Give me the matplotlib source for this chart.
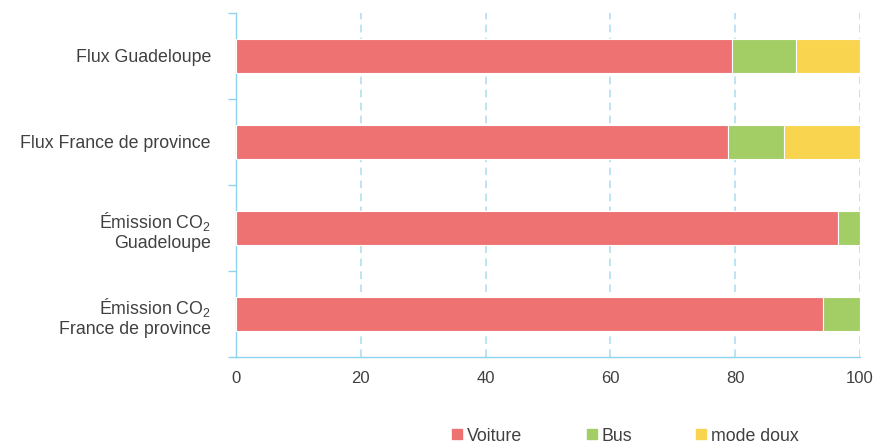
import matplotlib.pyplot as plt
from matplotlib.lines import Line2D

plt.rcParams['font.family'] = ['Liberation Sans', 'DejaVu Sans']
plt.rcParams['mathtext.fontset'] = 'custom'
plt.rcParams['mathtext.rm'] = 'Liberation Sans'
plt.rcParams['mathtext.it'] = 'Liberation Sans'

# données (en %)
categories = ["Flux Guadeloupe", "Flux France de province",
              "Émission CO$_2$\nGuadeloupe", "Émission CO$_2$\nFrance de province"]
voiture = [79.5, 78.8, 96.5, 94.0]
bus = [10.3, 9.0, 3.5, 6.0]
mode_doux = [10.2, 12.2, 0.0, 0.0]
series_names = ["Voiture", "Bus", "mode doux"]

colors = ['#EE7272', '#A3CD65', '#F9D44E']
axis_col = '#8FD2EE'
text_col = '#404040'

fig = plt.figure(figsize=(8.76, 4.43), dpi=100)
ax = fig.add_axes([236/876, 1-357/443, 624/876, 344/443])

ypos = list(range(len(categories)))
left = [0.0] * len(categories)
for vals, col in zip([voiture, bus, mode_doux], colors):
    ax.barh(ypos, vals, left=left, height=0.4, color=col,
            edgecolor='white', linewidth=0.8, zorder=3)
    left = [a + b for a, b in zip(left, vals)]

ax.set_xlim(0, 100)
ax.set_ylim(3.5, -0.5)
ax.set_xticks([0, 20, 40, 60, 80, 100])
ax.set_xticks([0], minor=True)
ax.set_yticks(ypos)
ax.set_yticklabels(categories, ha='right', linespacing=1.15)
ax.set_yticks([-0.5, 0.5, 1.5, 2.5, 3.5], minor=True)
ax.tick_params(axis='y', which='major', length=0, pad=18, labelsize=12.8, labelcolor=text_col)
ax.tick_params(axis='y', which='minor', length=6, color=axis_col, width=1)
ax.tick_params(axis='x', which='major', length=0, pad=10, labelsize=12, labelcolor=text_col)
ax.tick_params(axis='x', which='minor', length=5, color=axis_col, width=1)

for v in [20, 40, 60, 80, 100]:
    ax.axvline(v, color='#A9DDF0', linestyle=(0, (5, 3.5)), linewidth=1.1, zorder=1)

for s in ['top', 'right']:
    ax.spines[s].set_visible(False)
for s in ['left', 'bottom']:
    ax.spines[s].set_color(axis_col)
    ax.spines[s].set_linewidth(1)

handles = [Line2D([], [], marker='s', linestyle='none', markersize=7.5,
                  markerfacecolor=c, markeredgecolor=c) for c in colors]
fig.legend(handles, series_names, loc='lower center', bbox_to_anchor=(0.714, -0.04),
           ncol=3, frameon=False, fontsize=12.8, handlelength=0.6,
           handletextpad=0.25, columnspacing=3.6, labelcolor=text_col)

fig.savefig('out.png', dpi=100)
